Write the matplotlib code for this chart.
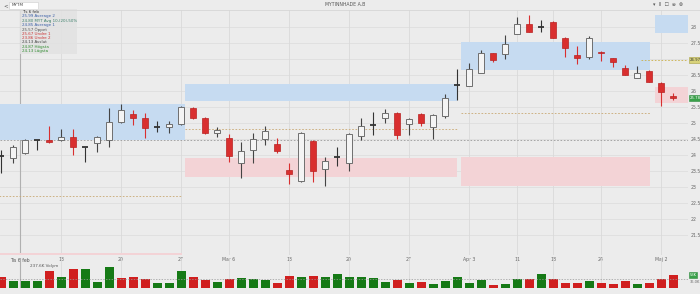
import matplotlib
matplotlib.use("Agg")
import matplotlib.pyplot as plt
from matplotlib.patches import Rectangle
from matplotlib.transforms import blended_transform_factory

# daily candles
opens = [23.97, 23.91, 24.06, 24.47, 24.47, 24.47, 24.56, 24.25, 24.38, 24.47,
         25.03, 25.28, 25.16, 24.88, 24.88, 24.97, 25.47, 25.16, 24.69, 24.53,
         23.75, 24.16, 24.50, 24.34, 23.53, 23.19, 24.44, 23.56, 23.94, 23.75,
         24.59, 24.94, 25.16, 25.31, 24.97, 25.28, 24.88, 25.22, 26.19, 26.16,
         26.56, 27.19, 27.16, 27.78, 28.09, 28.00, 28.16, 27.66, 27.13, 27.06,
         27.22, 27.03, 26.72, 26.41, 26.63, 26.25, 25.84]
highs = [24.16, 24.31, 24.50, 24.48, 24.91, 24.81, 24.81, 24.26, 24.59, 25.47,
         25.59, 25.41, 25.31, 25.06, 25.06, 25.53, 25.50, 25.19, 24.88, 24.66,
         24.41, 24.69, 24.91, 24.53, 23.75, 24.72, 24.47, 23.94, 24.25, 24.69,
         25.16, 25.34, 25.44, 25.34, 25.16, 25.31, 25.28, 25.91, 26.69, 26.88,
         27.28, 27.19, 27.75, 28.31, 28.38, 28.22, 28.19, 27.69, 27.41, 27.72,
         27.25, 27.03, 26.81, 26.78, 26.66, 26.28, 25.94]
lows = [23.44, 23.75, 24.03, 24.16, 24.38, 24.45, 24.00, 23.78, 24.09, 24.25,
        25.00, 24.94, 24.53, 24.72, 24.69, 24.94, 25.12, 24.66, 24.56, 23.78,
        23.28, 23.75, 24.31, 24.06, 23.09, 23.16, 23.16, 23.03, 23.66, 23.50,
        24.47, 24.63, 25.00, 24.50, 24.63, 24.91, 24.50, 25.16, 25.72, 26.16,
        26.56, 26.91, 27.00, 27.78, 27.84, 27.84, 27.66, 27.06, 26.84, 27.00,
        26.94, 26.75, 26.50, 26.41, 26.28, 25.53, 25.72]
closes = [23.97, 24.25, 24.47, 24.47, 24.41, 24.56, 24.25, 24.25, 24.56, 25.03,
          25.41, 25.16, 24.84, 24.88, 24.97, 25.50, 25.16, 24.69, 24.78, 23.97,
          24.13, 24.50, 24.75, 24.13, 23.41, 24.69, 23.50, 23.81, 23.94, 24.66,
          24.91, 24.94, 25.31, 24.63, 25.13, 25.00, 25.25, 25.78, 26.19, 26.69,
          27.19, 26.97, 27.47, 28.09, 27.84, 28.00, 27.66, 27.34, 27.03, 27.66,
          27.19, 26.91, 26.50, 26.56, 26.28, 25.97, 25.78]
# volume in thousands, g = up, r = down
volumes = [43, 29, 29, 27, 69, 45, 75, 76, 25, 83, 40, 45, 35, 21, 19, 67, 45, 32, 25, 36,
           39, 36, 32, 21, 47, 45, 48, 43, 56, 43, 45, 40, 23, 32, 20, 25, 16, 27, 43, 20,
           33, 13, 16, 37, 36, 57, 35, 20, 19, 29, 20, 15, 27, 17, 21, 37, 53]
vol_dir = "rgggrgrgggrrrgggrrgrgggrrgrggggggrgrgggggrggrgrrrgrrrgrrr"

price_ticks = [21.5, 22, 22.5, 23, 23.5, 24, 24.5, 25, 25.5, 26, 26.5, 27, 27.5, 28]
date_pos = [5, 10, 15, 19, 24, 29, 34, 39, 43, 46, 50, 55]
date_labels = ["13", "20", "27", "Mar 6", "13", "20", "27", "Apr 3", "11", "18", "24", "Maj 2"]
cursor_pos = 1.6
cursor_label = "Tis 6 feb"

# zones: start, end, low, high
blue_zones = [(-1, 15.33, 24.47, 25.59), (15.33, 38.0, 25.69, 26.22),
              (38.33, 54.08, 26.66, 27.53), (54.5, 58, 27.81, 28.38)]
pink_zones = [(-1, 15.1, 20.0, 20.94), (15.33, 38.0, 23.31, 23.91),
              (38.33, 54.08, 23.03, 23.94), (54.5, 58, 25.63, 26.13)]
pivot_lines = [(-1, 15.1, 22.72), (15.33, 38.0, 24.81), (38.33, 54.08, 25.31)]
prev_close = 24.47
target = 26.97

legend_lines = ["Tis 6 feb", "25.99 Average 2", "24.80 MYT Avg 10,(20),50%", "24.85 Average 1",
                "25.57 Öppet", "25.67 Undre 1", "23.86 Undre 2", "24.13 Avslut",
                "24.87 Högsta", "24.13 Lägsta"]
legend_colors = ["#333333", "#3b5fa8", "#3b7f6a", "#3b5fa8", "#555555", "#cc3333",
                 "#cc3333", "#444444", "#2e8b2e", "#2e8b2e"]

W, H = 700, 294
bg = "#ececec"
red = "#d92f2f"
fig = plt.figure(figsize=(7, 2.94), dpi=100)
fig.patch.set_facecolor(bg)

ax = fig.add_axes([0, (H - 255) / H, 688 / W, 245 / H])
axv = fig.add_axes([0, (H - 288) / H, 688 / W, 30 / H], sharex=ax)
axv.patch.set_alpha(0)
ax.set_facecolor(bg)
for a in (ax, axv):
    for s in a.spines.values():
        s.set_visible(False)

xmin, xmax = -1 / 12, 687 / 12
ax.set_xlim(xmin, xmax)
ax.set_ylim(20.875, 28.53)

# grid
for t in price_ticks:
    ax.axhline(t, color="#dedede", lw=0.6, zorder=0)
for p in date_pos:
    ax.axvline(p, color="#dadada", lw=0.6, zorder=0)
    axv.axvline(p, color="#dadada", lw=0.6, zorder=0)
ax.axvline(cursor_pos, color="#b0b0b0", lw=0.8, zorder=0)
axv.axvline(cursor_pos, color="#b0b0b0", lw=0.8, zorder=0)

for x0, x1, lo, hi in blue_zones:
    ax.add_patch(Rectangle((x0, lo), x1 - x0, hi - lo, color="#c6dbf1", lw=0, zorder=1))
for x0, x1, lo, hi in pink_zones:
    ax.add_patch(Rectangle((x0, lo), x1 - x0, hi - lo, color="#f3d3d6", lw=0, zorder=1))
for x0, x1, yv in pivot_lines:
    ax.plot([x0, x1], [yv, yv], color="#c9a873", lw=0.6, ls=(0, (2, 2)), zorder=2)
ax.axhline(prev_close, color="#9a9a9a", lw=0.6, ls=(0, (2, 2)), zorder=2)
ax.plot([53.3, xmax], [target, target], color="#c9b04a", lw=0.6, ls=(0, (2, 2)), zorder=2)

# candles
bw = 0.58
for i in range(len(opens)):
    o, hi, lo, c = opens[i], highs[i], lows[i], closes[i]
    if c > o:
        ax.vlines(i, lo, hi, color="#444444", lw=0.8, zorder=3)
        ax.add_patch(Rectangle((i - bw / 2, o), bw, c - o, facecolor="#f4f4f4",
                               edgecolor="#6e6e6e", lw=0.7, zorder=4))
    elif c < o:
        ax.vlines(i, lo, hi, color=red, lw=0.8, zorder=3)
        ax.add_patch(Rectangle((i - bw / 2, c), bw, o - c, facecolor=red,
                               edgecolor="#b82222", lw=0.5, zorder=4))
    else:
        ax.vlines(i, lo, hi, color="#333333", lw=0.8, zorder=3)
        ax.hlines(o, i - bw / 2, i + bw / 2, color="#333333", lw=1.3, zorder=4)

# right price axis (the 27 label sits under the target tag)
ax.set_yticks(price_ticks)
ax.set_yticklabels(["" if t == 27 else f"{t:g}" for t in price_ticks])
ax.yaxis.tick_right()
ax.tick_params(axis="y", length=0, pad=2, labelsize=3.3, labelcolor="#666666")
ax.set_xticks(date_pos)
ax.set_xticklabels(date_labels)
ax.tick_params(axis="x", length=0, pad=1.5, labelsize=3.3, labelcolor="#666666")
ax.text(cursor_pos, -0.012, cursor_label, transform=blended_transform_factory(ax.transData, ax.transAxes),
        ha="center", va="top", fontsize=3.3, color="#555555")

ax.text(1.002, target, f"{target:.2f}", transform=blended_transform_factory(ax.transAxes, ax.transData),
        ha="left", va="center", fontsize=2.8, color="#333333",
        bbox=dict(boxstyle="square,pad=0.15", fc="#d8d27a", ec="#a8a040", lw=0.4))
ax.text(1.002, closes[-1], f"{closes[-1]:.2f}", transform=blended_transform_factory(ax.transAxes, ax.transData),
        ha="left", va="center", fontsize=2.8, color="white",
        bbox=dict(boxstyle="square,pad=0.15", fc="#3aa04a", ec="#2e8b3e", lw=0.4))

# volume
axv.set_ylim(0, 120)
axv.bar(range(len(volumes)), volumes, width=0.75,
        color=["#167a16" if d == "g" else "#d01f1f" for d in vol_dir], zorder=3)
avg_vol = sum(volumes) / len(volumes)
axv.axhline(avg_vol, color="#9a9a9a", lw=0.5, ls=(0, (2, 2)), zorder=4)
axv.set_yticks([])
axv.tick_params(axis="x", length=0, labelbottom=False)
axv.text(0.043, 0.7, f"{sum(volumes) / len(volumes) * 6.6:.1f}K Volym", transform=axv.transAxes,
         fontsize=3, color="#555555")
axv.text(1.002, 52, f"{volumes[-1]}K", transform=blended_transform_factory(axv.transAxes, axv.transData),
         ha="left", va="center", fontsize=2.6, color="white",
         bbox=dict(boxstyle="square,pad=0.15", fc="#3aa04a", ec="#2e8b3e", lw=0.4))
axv.text(1.002, avg_vol - 3, f"{avg_vol:.1f}K", transform=blended_transform_factory(axv.transAxes, axv.transData),
         ha="left", va="top", fontsize=2.6, color="#666666")

# header
fig.add_artist(plt.Line2D([0, 1], [(H - 10) / H] * 2, color="#d6d6d6", lw=0.6))
fig.add_artist(Rectangle((9 / W, (H - 9) / H), 29 / W, 7 / H, transform=fig.transFigure,
                         fc="white", ec="#cccccc", lw=0.4))
fig.text(3 / W, (H - 5.5) / H, "<", fontsize=4, color="#555555", va="center")
fig.text(12 / W, (H - 5.5) / H, "MYTM", fontsize=3, color="#444444", va="center")
fig.text(345 / W, (H - 5) / H, "MYTINNHADE A.B", fontsize=3.3, color="#555555", ha="center", va="center")
fig.text(668 / W, (H - 5) / H, "▾  II  ☐  ⊜  ⊗", fontsize=3.5, color="#555555", ha="center", va="center")

# legend block
fig.add_artist(Rectangle((20 / W, (H - 54) / H), 57 / W, 45 / H, transform=fig.transFigure,
                         fc="#e2e2e2", ec="none", alpha=0.85))
for k, (txt, col) in enumerate(zip(legend_lines, legend_colors)):
    fig.text(22 / W, (H - 12 - 4.35 * k) / H, txt, fontsize=2.9, color=col, va="center")

fig.savefig("out.png", dpi=100, facecolor=bg)
